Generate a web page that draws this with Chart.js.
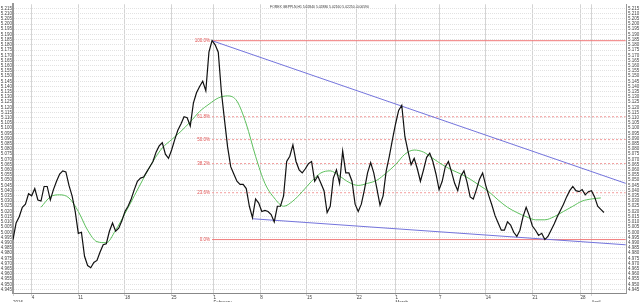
<!DOCTYPE html>
<html>
<head>
<meta charset="utf-8">
<script src="https://cdn.jsdelivr.net/npm/chart.js@4/dist/chart.umd.min.js"></script>
<style>
html, body { margin: 0; padding: 0; background: #fff; }
#wrap { width: 640px; height: 302px; }
</style>
</head>
<body>
<div id="wrap"><canvas id="chart" width="640" height="302"></canvas></div>
<script>
// Heading of the quote window
const titleText = 'FOREX GBPPLN,H1 5.02840 5.02880 5.02160 5.02250 -0.00590';

// closing prices, one per bar
const closePrices = [
  4.993, 5.009, 5.015, 5.024, 5.027, 5.037, 5.035, 5.042, 5.031, 5.030,
  5.044, 5.044, 5.031, 5.041, 5.049, 5.056, 5.059, 5.058, 5.045, 5.035,
  5.020, 4.999, 5.000, 4.977, 4.968, 4.966, 4.971, 4.973, 4.981, 4.988,
  4.989, 5.001, 5.009, 5.001, 5.004, 5.011, 5.020, 5.025, 5.032, 5.041,
  5.049, 5.052, 5.053, 5.058, 5.063, 5.068, 5.077, 5.083, 5.086, 5.075,
  5.071, 5.079, 5.089, 5.098, 5.104, 5.111, 5.110, 5.102, 5.124, 5.134,
  5.140, 5.145, 5.136, 5.173, 5.184, 5.180, 5.173, 5.135, 5.108, 5.082,
  5.063, 5.056, 5.049, 5.046, 5.046, 5.042, 5.025, 5.014, 5.032, 5.028,
  5.020, 5.021, 5.020, 5.017, 5.010, 5.025, 5.025, 5.035, 5.068, 5.073,
  5.084, 5.068, 5.060, 5.057, 5.061, 5.066, 5.068, 5.049, 5.054, 5.047,
  5.040, 5.019, 5.025, 5.052, 5.060, 5.047, 5.078, 5.057, 5.057, 5.049,
  5.027, 5.020, 5.027, 5.041, 5.057, 5.067, 5.057, 5.042, 5.026, 5.035,
  5.059, 5.073, 5.089, 5.104, 5.117, 5.122, 5.092, 5.078, 5.065, 5.071,
  5.061, 5.049, 5.060, 5.072, 5.076, 5.068, 5.056, 5.041, 5.049, 5.063,
  5.068, 5.058, 5.047, 5.040, 5.054, 5.059, 5.048, 5.034, 5.032, 5.041,
  5.051, 5.057, 5.045, 5.035, 5.026, 5.016, 5.009, 5.002, 5.002, 5.010,
  5.007, 5.000, 4.996, 5.002, 5.015, 5.024, 5.016, 5.006, 5.002, 4.997,
  4.999, 4.993, 4.996, 5.002, 5.008, 5.015, 5.021, 5.027, 5.034, 5.040,
  5.044, 5.040, 5.039, 5.041, 5.036, 5.039, 5.040, 5.034, 5.025, 5.022,
  5.019
];

// green moving average, one value every 3 bars
const avgEvery = 3;
const avgPrices = [
  null, null, null, 5.024, 5.034, 5.036, 5.033, 5.020, 5.002, 4.991,
  4.990, 5.002, 5.018, 5.035, 5.052, 5.068, 5.081, 5.089, 5.097, 5.106,
  5.116, 5.123, 5.129, 5.131, 5.126, 5.104, 5.073, 5.047, 5.033, 5.025,
  5.030, 5.039, 5.049, 5.057, 5.059, 5.054, 5.048, 5.045, 5.047, 5.050,
  5.057, 5.065, 5.075, 5.079, 5.077, 5.071, 5.065, 5.060, 5.056, 5.051,
  5.045, 5.039, 5.031, 5.024, 5.019, 5.015, 5.012, 5.012, 5.015, 5.020,
  5.025, 5.030, 5.032, 5.033
];

// blue trend lines (bar, price)
const upperTrendBars = [64, 197];
const upperTrendValues = [5.184, 5.047];
const lowerTrendBars = [77, 197];
const lowerTrendValues = [5.013, 4.988];

// Fibonacci retracement levels
const fibLabels = ['0.0%', '23.6%', '38.2%', '50.0%', '61.8%', '100.0%'];
const fibValues = [4.993, 5.038, 5.066, 5.089, 5.111, 5.184];
const fibBars = [64, 197];

// time axis
const lastBar = 197.1;
const weekTickBars = [0, 6, 21, 36, 51, 64.5, 79.5, 94.5, 110.5, 123, 137, 152, 167, 182.5, 186];
const weekTickDays = ['', '4', '11', '18', '25', '1', '8', '15', '22', '1', '7', '14', '21', '28', ''];
const weekTickMonths = ['2016', '', '', '', '', 'February', '', '', '', 'March', '', '', '', '', 'April'];

// price axis
const priceMin = 4.9417;
const priceMax = 5.219;
const priceStep = 0.005;

const FONT = '"Liberation Sans", Arial, sans-serif';
Chart.defaults.font.family = FONT;

const line = (data, color, width, extra) => Object.assign({
  data, borderColor: color, borderWidth: width, pointRadius: 0, fill: false, tension: 0
}, extra || {});

const datasets = [
  line(closePrices.map((v, i) => ({x: i, y: v})), '#111', 1.2),
  line(avgPrices.map((v, k) => ({x: k * avgEvery, y: v})), '#5cbf5c', 1, {cubicInterpolationMode: 'monotone'}),
  line(upperTrendBars.map((b, i) => ({x: b, y: upperTrendValues[i]})), '#7474dc', 1),
  line(lowerTrendBars.map((b, i) => ({x: b, y: lowerTrendValues[i]})), '#7474dc', 1)
];
fibValues.forEach((v, i) => {
  const solid = i === 0 || i === fibValues.length - 1;
  datasets.push(line(fibBars.map(b => ({x: b, y: v})), solid ? '#f07a7a' : '#f29a9a', 1,
    solid ? {} : {borderDash: [2, 2]}));
});

const overlay = {
  id: 'overlay',
  afterDatasetsDraw(chart) {
    const {ctx, chartArea, scales} = chart;
    ctx.save();
    ctx.font = '4.5px ' + FONT;
    ctx.fillStyle = '#e05050';
    ctx.textAlign = 'right';
    ctx.textBaseline = 'middle';
    const fx = scales.x.getPixelForValue(fibBars[0]) - 2;
    fibLabels.forEach((t, i) => ctx.fillText(t, fx, scales.y.getPixelForValue(fibValues[i])));
    ctx.font = '3.4px ' + FONT;
    ctx.fillStyle = '#333';
    ctx.textAlign = 'center';
    ctx.textBaseline = 'top';
    ctx.fillText(titleText, (chartArea.left + chartArea.right) / 2, chartArea.top + 1);
    ctx.restore();
  }
};

const yTicks = {
  stepSize: priceStep, includeBounds: false, autoSkip: false, padding: 1,
  color: '#444', font: {size: 4.5, lineHeight: 1},
  callback: v => v.toFixed(3)
};

new Chart(document.getElementById('chart'), {
  type: 'line',
  data: {datasets},
  plugins: [overlay],
  options: {
    responsive: false,
    animation: false,
    events: [],
    layout: {padding: {top: 1, left: 0, right: 0, bottom: 0}},
    plugins: {legend: {display: false}, tooltip: {enabled: false}, title: {display: false}},
    scales: {
      x: {
        type: 'linear', min: 0, max: lastBar,
        afterBuildTicks: s => { s.ticks = weekTickBars.map(v => ({value: v})); },
        afterFit: s => { s.height = 9; },
        ticks: {
          autoSkip: false, maxRotation: 0, align: 'start', padding: 0,
          color: '#444', font: {size: 4.5, lineHeight: 1},
          callback: (v, i) => [weekTickDays[i], weekTickMonths[i]]
        },
        grid: {color: '#d4d4d4', lineWidth: 1, tickLength: 3},
        border: {color: '#888', width: 1}
      },
      y: {
        type: 'linear', position: 'left', min: priceMin, max: priceMax,
        afterFit: s => { s.width = 13; },
        ticks: yTicks,
        grid: {color: '#e2e2e2', lineWidth: 1, drawTicks: false},
        border: {color: '#999', width: 2, dash: [1, 1]}
      },
      y2: {
        type: 'linear', position: 'right', min: priceMin, max: priceMax,
        afterFit: s => { s.width = 14; },
        ticks: Object.assign({}, yTicks, {padding: 2}),
        grid: {drawOnChartArea: false, drawTicks: false},
        border: {color: '#999', width: 1}
      }
    }
  }
});
</script>
</body>
</html>
